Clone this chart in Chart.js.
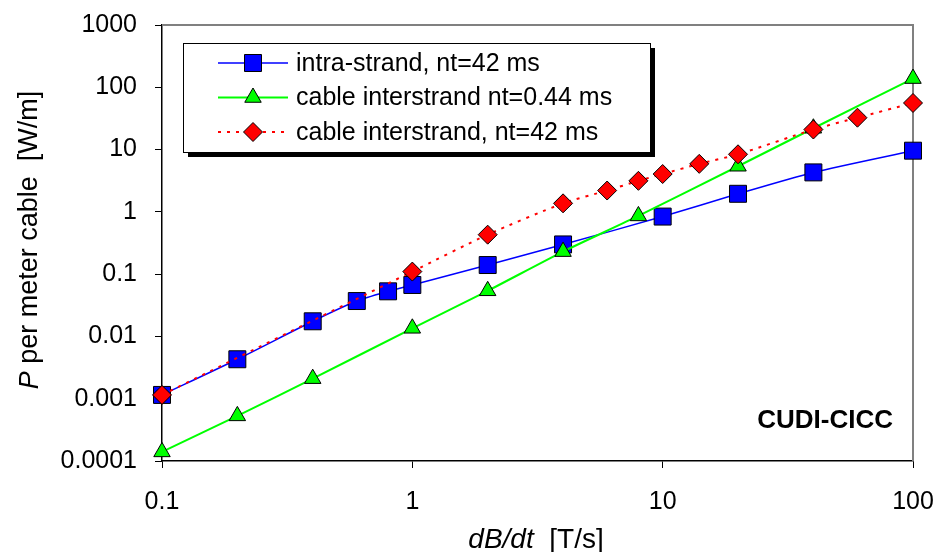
<!DOCTYPE html>
<html>
<head>
<meta charset="utf-8">
<script src="https://cdn.jsdelivr.net/npm/chart.js@4.4.0/dist/chart.umd.min.js"></script>
<style>
  html, body { margin: 0; padding: 0; background: #fff; }
  #wrap { width: 937px; height: 552px; position: relative; }
</style>
</head>
<body>
<div id="wrap"><canvas id="lossChart"></canvas></div>
<script>
// dB/dt [T/s] and loss per meter [W/m] for each series
const intraX = [0.1, 0.2, 0.4, 0.6, 0.8, 1, 2, 4, 10, 20, 40, 100];
const intraP = [0.00115, 0.0043, 0.0175, 0.037, 0.053, 0.067, 0.14, 0.30, 0.84, 1.95, 4.3, 9.6];

const cableShortX = [0.1, 0.2, 0.4, 1, 2, 4, 8, 20, 40, 100];
const cableShortP = [0.00014, 0.00053, 0.0021, 0.0135, 0.054, 0.23, 0.86, 5.4, 22, 138];

const cableLongX = [0.1, 1, 2, 4, 6, 8, 10, 14, 20, 40, 60, 100];
const cableLongP = [0.00115, 0.11, 0.43, 1.37, 2.2, 3.15, 4.05, 5.9, 8.4, 21, 32.5, 56];

const seriesNames = [
  "intra-strand, nt=42 ms",
  "cable interstrand nt=0.44 ms",
  "cable interstrand, nt=42 ms"
];

const xTicks = [0.1, 1, 10, 100];
const yTicks = [0.0001, 0.001, 0.01, 0.1, 1, 10, 100, 1000];

const FONT = "'Liberation Sans', Arial, sans-serif";

const toPoints = (xs, ys) => xs.map((x, i) => ({ x: x, y: ys[i] }));

// marker shapes used in the legend (same geometry as Chart.js point styles)
function drawMarker(ctx, style, x, y, r, fill) {
  ctx.beginPath();
  if (style === "rect") {
    const s = Math.SQRT1_2 * r;
    ctx.rect(x - s, y - s, 2 * s, 2 * s);
  } else if (style === "triangle") {
    for (let k = 0; k < 3; k++) {
      const ang = k * 2 * Math.PI / 3;
      const px = x + Math.sin(ang) * r, py = y - Math.cos(ang) * r;
      k ? ctx.lineTo(px, py) : ctx.moveTo(px, py);
    }
    ctx.closePath();
  } else {
    ctx.moveTo(x - r, y); ctx.lineTo(x, y - r); ctx.lineTo(x + r, y); ctx.lineTo(x, y + r);
    ctx.closePath();
  }
  ctx.fillStyle = fill;
  ctx.fill();
  ctx.lineWidth = 1;
  ctx.strokeStyle = "#000";
  ctx.stroke();
}

const legendRows = [
  { color: "#0000ff", width: 1.5, dash: [], style: "rect", r: 12, fill: "#0000ff" },
  { color: "#00ff00", width: 2, dash: [], style: "triangle", r: 9.5, fill: "#00ff00" },
  { color: "#ff0000", width: 2, dash: [3, 6], style: "rectRot", r: 9.5, fill: "#ff0000" }
];

// draw an italic lead-in followed by upright text, centred on (cx, cy)
function mixedText(ctx, lead, rest, cx, cy, size) {
  ctx.font = "italic " + size + "px " + FONT;
  const wa = ctx.measureText(lead).width;
  ctx.font = size + "px " + FONT;
  const wb = ctx.measureText(rest).width;
  const sx = cx - (wa + wb) / 2;
  ctx.font = "italic " + size + "px " + FONT;
  ctx.fillText(lead, sx, cy);
  ctx.font = size + "px " + FONT;
  ctx.fillText(rest, sx + wa, cy);
}

const decorations = {
  id: "decorations",
  beforeDatasetsDraw(chart) {
    const { ctx, chartArea: a } = chart;
    ctx.save();
    ctx.strokeStyle = "#808080";
    ctx.lineWidth = 2;
    ctx.beginPath();
    ctx.moveTo(a.left, a.top);
    ctx.lineTo(a.right, a.top);
    ctx.lineTo(a.right, a.bottom);
    ctx.stroke();
    ctx.restore();
  },
  afterDraw(chart) {
    const { ctx } = chart;
    ctx.save();

    // legend box with drop shadow
    const bx = 183, by = 43, bw = 467, bh = 109;
    ctx.fillStyle = "#000";
    ctx.fillRect(bx + 5, by + 5, bw, bh);
    ctx.fillStyle = "#fff";
    ctx.fillRect(bx, by, bw, bh);
    ctx.strokeStyle = "#000";
    ctx.lineWidth = 1;
    ctx.strokeRect(bx + 0.5, by + 0.5, bw, bh);

    legendRows.forEach((row, i) => {
      const y = 63 + i * 34.5;
      ctx.save();
      ctx.strokeStyle = row.color;
      ctx.lineWidth = row.width;
      ctx.setLineDash(row.dash);
      ctx.beginPath();
      ctx.moveTo(218, y);
      ctx.lineTo(288, y);
      ctx.stroke();
      ctx.restore();
      drawMarker(ctx, row.style, 253, y, row.r, row.fill);
      ctx.fillStyle = "#000";
      ctx.font = "25px " + FONT;
      ctx.textBaseline = "middle";
      ctx.textAlign = "left";
      ctx.fillText(seriesNames[i], 296, y + 1);
    });

    // label in the lower right corner
    ctx.font = "bold 26px " + FONT;
    ctx.textAlign = "right";
    ctx.textBaseline = "middle";
    ctx.fillStyle = "#000";
    ctx.fillText("CUDI-CICC", 893, 421);

    // axis titles
    ctx.textAlign = "left";
    ctx.textBaseline = "middle";
    mixedText(ctx, "dB/dt", "  [T/s]", 536, 540, 28);

    ctx.translate(30, 240);
    ctx.rotate(-Math.PI / 2);
    mixedText(ctx, "P", " per meter cable  [W/m]", 0, 0, 27);

    ctx.restore();
  }
};

new Chart(document.getElementById("lossChart"), {
  type: "line",
  data: {
    datasets: [
      {
        label: seriesNames[0],
        data: toPoints(intraX, intraP),
        borderColor: "#0000ff",
        borderWidth: 1.5,
        backgroundColor: "#0000ff",
        pointStyle: "rect",
        pointRadius: 12,
        pointBorderColor: "#000",
        pointBorderWidth: 1,
        tension: 0.25,
        clip: false,
        order: 3
      },
      {
        label: seriesNames[1],
        data: toPoints(cableShortX, cableShortP),
        borderColor: "#00ff00",
        borderWidth: 2,
        backgroundColor: "#00ff00",
        pointStyle: "triangle",
        pointRadius: 9.5,
        pointBorderColor: "#000",
        pointBorderWidth: 1,
        tension: 0.2,
        clip: false,
        order: 2
      },
      {
        label: seriesNames[2],
        data: toPoints(cableLongX, cableLongP),
        borderColor: "#ff0000",
        borderWidth: 2,
        borderDash: [3, 6],
        backgroundColor: "#ff0000",
        pointStyle: "rectRot",
        pointRadius: 9.5,
        pointBorderColor: "#000",
        pointBorderWidth: 1,
        tension: 0.25,
        clip: false,
        order: 1
      }
    ]
  },
  options: {
    responsive: true,
    maintainAspectRatio: false,
    animation: false,
    layout: { padding: { left: 0, top: 25, right: 24, bottom: 0 } },
    plugins: {
      legend: { display: false },
      tooltip: { enabled: false }
    },
    scales: {
      x: {
        type: "logarithmic",
        min: 0.1,
        max: 100,
        afterBuildTicks: scale => { scale.ticks = xTicks.map(v => ({ value: v })); },
        afterFit: scale => {
          scale.height = 91;
          scale.paddingLeft = 0;
          scale.paddingRight = 0;
        },
        ticks: {
          color: "#000",
          padding: 19,
          maxRotation: 0,
          font: { family: FONT, size: 25 },
          callback: v => String(v)
        },
        grid: { drawOnChartArea: false, tickLength: 7, color: "#000", lineWidth: 1 },
        border: { color: "#000", width: 1.5 }
      },
      y: {
        type: "logarithmic",
        min: 0.0001,
        max: 1000,
        afterBuildTicks: scale => { scale.ticks = yTicks.map(v => ({ value: v })); },
        afterFit: scale => {
          scale.width = 162;
          scale.paddingTop = 0;
          scale.paddingBottom = 0;
        },
        ticks: {
          color: "#000",
          padding: 18,
          font: { family: FONT, size: 25 },
          callback: v => String(v)
        },
        grid: { drawOnChartArea: false, tickLength: 7, color: "#000", lineWidth: 1 },
        border: { color: "#000", width: 1.5 }
      }
    }
  },
  plugins: [decorations]
});
</script>
</body>
</html>
